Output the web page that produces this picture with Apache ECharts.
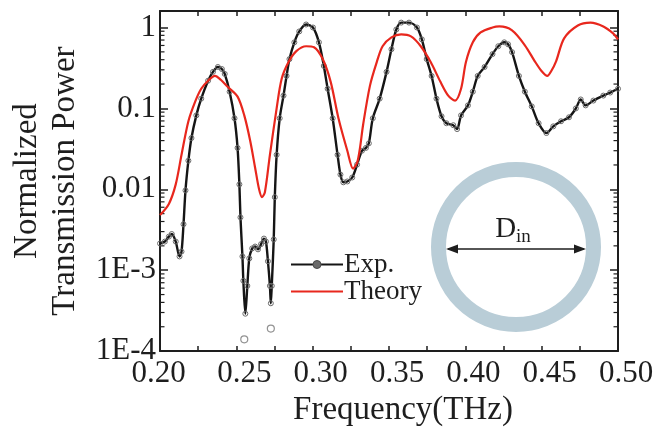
<!DOCTYPE html>
<html>
<head>
<meta charset="utf-8">
<title>Normalized Transmission Power</title>
<script src="https://cdn.jsdelivr.net/npm/echarts@6/dist/echarts.min.js"></script>
<style>
  html, body { margin: 0; padding: 0; background: #fff; }
  #chart { width: 657px; height: 432px; }
</style>
</head>
<body>
<div id="chart"></div>
<script>
// Measured transmission (Exp.)
const expFreq = [0.2000, 0.2032, 0.2058, 0.2077, 0.2103, 0.2128, 0.2141, 0.2154, 0.2167, 0.2186,
  0.2206, 0.2238, 0.2270, 0.2315, 0.2347, 0.2379, 0.2405, 0.2424, 0.2456, 0.2488,
  0.2508, 0.2520, 0.2527, 0.2540, 0.2546, 0.2559, 0.2572, 0.2585, 0.2604, 0.2623,
  0.2642, 0.2662, 0.2681, 0.2694, 0.2707, 0.2720, 0.2726, 0.2732, 0.2745, 0.2752,
  0.2764, 0.2784, 0.2809, 0.2829, 0.2848, 0.2880, 0.2912, 0.2957, 0.3002, 0.3041,
  0.3073, 0.3098, 0.3131, 0.3163, 0.3182, 0.3201, 0.3227, 0.3259, 0.3291, 0.3323,
  0.3349, 0.3368, 0.3394, 0.3439, 0.3484, 0.3516, 0.3548, 0.3580, 0.3631, 0.3683,
  0.3715, 0.3747, 0.3779, 0.3811, 0.3844, 0.3876, 0.3921, 0.3946, 0.3972, 0.4017,
  0.4049, 0.4081, 0.4126, 0.4178, 0.4216, 0.4255, 0.4280, 0.4306, 0.4351, 0.4390,
  0.4435, 0.4480, 0.4531, 0.4576, 0.4627, 0.4679, 0.4724, 0.4756, 0.4788, 0.4839,
  0.4904, 0.4949, 0.5000];
const expPower = [0.00214, 0.00226, 0.0026, 0.0028, 0.00226, 0.00148, 0.0017, 0.0037, 0.0097, 0.0226,
  0.043, 0.082, 0.132, 0.22, 0.283, 0.325, 0.307, 0.267, 0.161, 0.0755,
  0.0325, 0.0115, 0.0045, 0.00148, 0.00074, 0.00029, 0.00064, 0.0014, 0.00186, 0.00196,
  0.00181, 0.0021, 0.00246, 0.00226, 0.00129, 0.00064, 0.00039, 0.00064, 0.0024, 0.008,
  0.0267, 0.0755, 0.144, 0.252, 0.407, 0.656, 0.894, 1.09, 1.0, 0.656,
  0.335, 0.175, 0.0755, 0.0267, 0.0152, 0.0122, 0.0125, 0.014, 0.0202, 0.03,
  0.0325, 0.037, 0.0755, 0.132, 0.283, 0.539, 0.945, 1.15, 1.15, 1.0,
  0.714, 0.407, 0.252, 0.132, 0.08, 0.0656, 0.062, 0.0555, 0.082, 0.109,
  0.161, 0.252, 0.325, 0.469, 0.587, 0.656, 0.62, 0.496, 0.252, 0.161,
  0.106, 0.0656, 0.0496, 0.06, 0.0694, 0.0777, 0.1, 0.129, 0.109, 0.125,
  0.144, 0.157, 0.175];

// Isolated measured points below the main trace
const outlierFreq = [0.2552, 0.2726];
const outlierPower = [0.00014, 0.00019];

// Calculated transmission (Theory)
const theoryFreq = [0.2000, 0.2058, 0.2103, 0.2141, 0.2186, 0.2231, 0.2270, 0.2315, 0.2360, 0.2398,
  0.2443, 0.2508, 0.2552, 0.2591, 0.2623, 0.2649, 0.2668, 0.2687, 0.2720, 0.2764,
  0.2797, 0.2842, 0.2893, 0.2957, 0.3009, 0.3066, 0.3118, 0.3169, 0.3227, 0.3265,
  0.3291, 0.3310, 0.3330, 0.3375, 0.3420, 0.3458, 0.3516, 0.3580, 0.3644, 0.3708,
  0.3773, 0.3837, 0.3888, 0.3933, 0.3972, 0.4004, 0.4049, 0.4100, 0.4178, 0.4223,
  0.4306, 0.4390, 0.4454, 0.4499, 0.4537, 0.4563, 0.4595, 0.4647, 0.4737, 0.4820,
  0.4904, 0.4968, 0.5000];
const theoryPower = [0.0048, 0.0066, 0.0115, 0.0267, 0.0694, 0.122, 0.175, 0.22, 0.252, 0.226,
  0.185, 0.14, 0.082, 0.0396, 0.0185, 0.01, 0.008, 0.0092, 0.0267, 0.1,
  0.232, 0.374, 0.51, 0.587, 0.57, 0.407, 0.213, 0.0755, 0.03, 0.018,
  0.0213, 0.0325, 0.062, 0.19, 0.374, 0.587, 0.755, 0.822, 0.777, 0.587,
  0.374, 0.213, 0.144, 0.125, 0.175, 0.374, 0.656, 0.869, 1.0, 1.03,
  0.92, 0.603, 0.385, 0.29, 0.252, 0.29, 0.385, 0.734, 1.06, 1.15,
  1.03, 0.845, 0.714];

// Decade labels of the log axis, from 1E-4 up to 1
const yTickLabels = ['1E-4', '1E-3', '0.01', '0.1', '1'];

const X_MIN = 0.2, X_MAX = 0.5;
const Y_MIN = 1e-4, Y_MAX = 1.6;
const SERIF = '"Liberation Serif", "DejaVu Serif", serif';
const INK = '#1e1e1e';

const zip = (xs, ys) => xs.map((x, i) => [x, ys[i]]);

// Minor ticks of the log axis at 2..9 within each decade
const minorTickValues = [];
for (let e = -4; e <= 0; e++) {
  for (let k = 2; k <= 9; k++) {
    const v = k * Math.pow(10, e);
    if (v < Y_MAX) minorTickValues.push(v);
  }
}

const chart = echarts.init(document.getElementById('chart'), null, { renderer: 'canvas' });

function logTickLabel(value) {
  const e = Math.log10(value);
  const r = Math.round(e);
  if (Math.abs(e - r) > 1e-6) return '';
  const idx = r + 4;
  return yTickLabels[idx] !== undefined ? yTickLabels[idx] : '';
}

const option = {
  backgroundColor: '#fff',
  animation: false,
  grid: { left: 151, right: 39, top: 11, bottom: 76 },
  legend: {
    data: [
      { name: 'Exp.', itemStyle: { color: '#6a6a6a', borderColor: '#4a4a4a', borderWidth: 1 } },
      { name: 'Theory', itemStyle: { color: 'rgba(0,0,0,0)', borderWidth: 0, opacity: 0 } }
    ],
    orient: 'vertical',
    left: 285,
    top: 246,
    itemWidth: 52,
    itemHeight: 10,
    itemGap: 0,
    textStyle: { fontFamily: SERIF, fontSize: 27, color: INK, padding: [0, 0, 0, -4], lineHeight: 26 }
  },
  xAxis: [{
    type: 'value',
    min: X_MIN, max: X_MAX, interval: 0.05,
    name: 'Frequency(THz)',
    nameLocation: 'middle',
    nameGap: 39,
    nameTextStyle: { fontFamily: SERIF, fontSize: 33, color: INK, padding: [0, 0, 0, 28] },
    axisLine: { show: true, onZero: false, lineStyle: { color: INK, width: 2 } },
    axisTick: { show: true, inside: true, length: 5, lineStyle: { color: INK, width: 1.5 } },
    minorTick: { show: true, splitNumber: 2, length: 5, lineStyle: { color: INK, width: 1.5 } },
    splitLine: { show: false },
    axisLabel: {
      fontFamily: SERIF, fontSize: 31, color: INK, margin: 7,
      padding: [0, 0, 0, 16],
      formatter: v => Math.abs(v - X_MIN) < 1e-9 ? '{first|' + v.toFixed(2) + '}' : v.toFixed(2),
      rich: { first: { fontFamily: SERIF, fontSize: 31, color: INK, padding: [0, 19, 0, 0] } }
    }
  }, {
    type: 'value',
    position: 'top',
    min: X_MIN, max: X_MAX, interval: 0.05,
    axisLine: { show: true, onZero: false, lineStyle: { color: INK, width: 2 } },
    axisTick: { show: true, inside: true, length: 5, lineStyle: { color: INK, width: 1.5 } },
    minorTick: { show: true, splitNumber: 2, length: 5, lineStyle: { color: INK, width: 1.5 } },
    splitLine: { show: false },
    axisLabel: { show: false }
  }],
  yAxis: [{
    type: 'log',
    logBase: 10,
    min: Y_MIN, max: Y_MAX,
    name: 'Normalized\nTransmission Power',
    nameLocation: 'middle',
    nameRotate: 90,
    nameGap: 76,
    nameTextStyle: { fontFamily: SERIF, fontSize: 33, color: INK, lineHeight: 38 },
    axisLine: { show: true, onZero: false, lineStyle: { color: INK, width: 2 } },
    axisTick: { show: true, inside: true, length: 8, lineStyle: { color: INK, width: 1.5 } },
    splitLine: { show: false },
    axisLabel: { fontFamily: SERIF, fontSize: 31, color: INK, margin: 4, formatter: logTickLabel }
  }, {
    type: 'log',
    logBase: 10,
    position: 'right',
    min: Y_MIN, max: Y_MAX,
    axisLine: { show: true, onZero: false, lineStyle: { color: INK, width: 2 } },
    axisTick: { show: true, inside: true, length: 8, lineStyle: { color: INK, width: 1.5 } },
    splitLine: { show: false },
    axisLabel: { show: false }
  }],
  series: [
    {
      // minor ticks of both log axes
      type: 'custom',
      silent: true,
      xAxisIndex: 0, yAxisIndex: 0,
      clip: false,
      data: minorTickValues.map(v => [X_MIN, v]),
      renderItem: (params, api) => {
        const left = api.coord([X_MIN, api.value(1)]);
        const right = api.coord([X_MAX, api.value(1)]);
        const style = { stroke: INK, lineWidth: 1.2 };
        return {
          type: 'group',
          children: [
            { type: 'line', shape: { x1: left[0], y1: left[1], x2: left[0] + 4.5, y2: left[1] }, style },
            { type: 'line', shape: { x1: right[0], y1: right[1], x2: right[0] - 4.5, y2: right[1] }, style }
          ]
        };
      },
      z: 1
    },
    {
      name: 'Theory',
      type: 'line',
      data: zip(theoryFreq, theoryPower),
      smooth: 0.3,
      showSymbol: false,
      symbol: 'none',
      color: '#e8271d',
      lineStyle: { color: '#e8271d', width: 2.2 },
      z: 3
    },
    {
      name: 'Exp.',
      type: 'line',
      data: zip(expFreq, expPower),
      smooth: 0.3,
      symbol: 'circle',
      symbolSize: 5,
      color: '#222',
      itemStyle: { color: 'rgba(255,255,255,0)', borderColor: '#6a6a6a', borderWidth: 1 },
      lineStyle: { color: '#151515', width: 2.4 },
      z: 2
    },
    {
      name: 'outliers',
      type: 'scatter',
      data: zip(outlierFreq, outlierPower),
      symbol: 'circle',
      symbolSize: 7,
      itemStyle: { color: 'rgba(255,255,255,0)', borderColor: '#777', borderWidth: 1.2 },
      z: 2
    }
  ],
  graphic: [
    {
      // cross-section of the ring waveguide
      type: 'circle',
      shape: { cx: 516, cy: 247, r: 77.5 },
      style: { fill: 'none', stroke: '#b9cdd7', lineWidth: 15 },
      z: 10
    },
    {
      type: 'line',
      shape: { x1: 448, y1: 249, x2: 584, y2: 249 },
      style: { stroke: INK, lineWidth: 1.6 },
      z: 11
    },
    {
      type: 'polygon',
      shape: { points: [[446, 249], [458, 244.5], [458, 253.5]] },
      style: { fill: INK },
      z: 11
    },
    {
      type: 'polygon',
      shape: { points: [[586, 249], [574, 244.5], [574, 253.5]] },
      style: { fill: INK },
      z: 11
    },
    {
      type: 'text',
      x: 513,
      y: 244,
      style: {
        text: '{d|D}{s|in}',
        textAlign: 'center',
        textVerticalAlign: 'bottom',
        rich: {
          d: { fontFamily: SERIF, fontSize: 29, fill: INK, color: INK },
          s: { fontFamily: SERIF, fontSize: 19, fill: INK, color: INK, verticalAlign: 'bottom', padding: [0, 0, -3, 0] }
        }
      },
      z: 11
    }
  ]
};

chart.setOption(option);
</script>
</body>
</html>
